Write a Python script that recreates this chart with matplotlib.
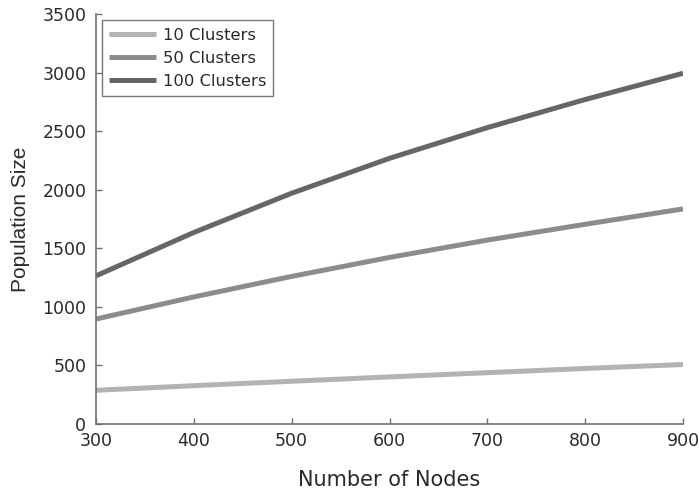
import matplotlib
matplotlib.use("Agg")
import matplotlib.pyplot as plt

nodes = [300, 400, 500, 600, 700, 800, 900]
c10 = [288, 327, 365, 402, 438, 474, 508]
c50 = [896, 1085, 1260, 1422, 1570, 1705, 1836]
c100 = [1265, 1635, 1970, 2268, 2530, 2770, 2994]
labels = ["10 Clusters", "50 Clusters", "100 Clusters"]
colors = ["#b3b3b3", "#8c8c8c", "#666666"]

plt.rcParams['font.family'] = ['DejaVu Sans']

fig = plt.figure(figsize=(6.99, 4.95), dpi=100)
ax = fig.add_axes([96/699, 1 - 424/495, (683-96)/699, (424-14)/495])

for y, lab, col in zip([c10, c50, c100], labels, colors):
    ax.plot(nodes, y, color=col, lw=3.6, label=lab, solid_capstyle='butt')

ax.set_xlim(300, 900)
ax.set_ylim(0, 3500)
ax.set_xticks(range(300, 901, 100))
ax.set_yticks(range(0, 3501, 500))
for s in ['top', 'right']:
    ax.spines[s].set_visible(False)
for s in ['left', 'bottom']:
    ax.spines[s].set_color('#707070')
    ax.spines[s].set_linewidth(1.2)
ax.tick_params(direction='in', length=4, width=1, color='#707070',
               labelsize=12.5, labelcolor='#2a2a2a')
ax.tick_params(axis='x', pad=6)
ax.tick_params(axis='y', pad=7)
ax.set_xlabel("Number of Nodes", fontsize=15, color='#2a2a2a', labelpad=14)
ax.set_ylabel("Population Size", family='Liberation Sans', fontsize=15,
              color='#2a2a2a', labelpad=9)

leg = ax.legend(loc='upper left', bbox_to_anchor=(0.01, 0.985), fontsize=11.8,
                frameon=True, fancybox=False, handlelength=2.85, borderpad=0.45,
                labelspacing=0.5, handletextpad=0.4, borderaxespad=0.0)
leg.get_frame().set_edgecolor('#555555')
leg.get_frame().set_linewidth(1.0)
for t in leg.get_texts():
    t.set_color('#2a2a2a')

fig.savefig("out.png", dpi=100)
